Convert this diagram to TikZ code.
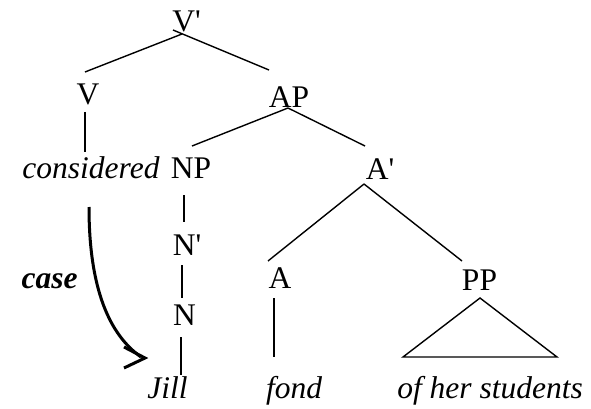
\documentclass[tikz,border=0pt]{standalone}
\usepackage{fontspec}
\setmainfont{Liberation Serif}
\begin{document}
\begin{tikzpicture}[x=1pt,y=-1pt,
  lab/.style={anchor=base,inner sep=0pt,font=\fontsize{31.5}{36}\selectfont},
  word/.style={lab,font=\fontsize{31.5}{36}\selectfont\itshape},
  edge/.style={line width=1.4pt},
  casearrow/.style={line width=3pt}]
\useasboundingbox (0,0) rectangle (591,409);
% nodes
\node[lab] (Vbar) at (186.5,32) {V\textquotesingle};
\node[lab] (V) at (88,105) {V};
\node[lab] (AP) at (289,107) {AP};
\node[word] (considered) at (91,178) {considered};
\node[lab] (NP) at (191,178) {NP};
\node[lab] (Abar) at (380,179) {A\textquotesingle};
\node[lab] (Nbar) at (187,255) {N\textquotesingle};
\node[lab] (N) at (184.5,325) {N};
\node[lab,font=\fontsize{31.5}{36}\selectfont\bfseries\itshape] (case) at (49.5,288) {case};
\node[lab] (A) at (280,288) {A};
\node[lab] (PP) at (479.5,290) {PP};
\node[word] (Jill) at (167.5,398) {Jill};
\node[word] (fond) at (294,398) {fond};
\node[word] (students) at (490,398) {of her students};
% connector coordinates
\coordinate (VbarL) at (182,34);
\coordinate (VbarR) at (173,30);
\coordinate (Vtop) at (85,72);
\coordinate (APtop) at (269,70);
\coordinate (Vbot) at (85,112);
\coordinate (consTop) at (85,152);
\coordinate (APbot) at (288,108);
\coordinate (NPtop) at (192,146);
\coordinate (Abartop) at (365,146);
\coordinate (NPbot) at (184,195);
\coordinate (Nbartop) at (184,222);
\coordinate (Nbarbot) at (182,265);
\coordinate (Ntop) at (182,298);
\coordinate (Nbot) at (181,337);
\coordinate (Jilltop) at (181,375);
\coordinate (Abarbot) at (364,184);
\coordinate (Atop) at (268,261);
\coordinate (PPtop) at (462,261);
\coordinate (Abot) at (274,298);
\coordinate (fondtop) at (274,357);
\coordinate (triA) at (480,298);
\coordinate (triL) at (403,357);
\coordinate (triR) at (557,357);
\coordinate (arrS) at (89,207);
\coordinate (arrE) at (141,357);
\coordinate (tip) at (145,358);
\coordinate (barbU) at (124,347);
\coordinate (barbD) at (124,368);
% tree edges
\draw[edge] (VbarL) -- (Vtop);
\draw[edge] (VbarR) -- (APtop);
\draw[edge] (Vbot) -- (consTop);
\draw[edge] (APbot) -- (NPtop);
\draw[edge] (APbot) -- (Abartop);
\draw[edge] (NPbot) -- (Nbartop);
\draw[edge] (Nbarbot) -- (Ntop);
\draw[edge] (Nbot) -- (Jilltop);
\draw[edge] (Abarbot) -- (Atop);
\draw[edge] (Abarbot) -- (PPtop);
\draw[edge] (Abot) -- (fondtop);
\draw[edge,line join=miter] (triA) -- (triL) -- (triR) -- cycle;
% case arrow
\draw[casearrow] (arrS) .. controls (89,290) and (110,335) .. (arrE);
\draw[casearrow,line join=miter,line cap=butt] (barbU) -- (tip) -- (barbD);
\end{tikzpicture}
\end{document}
